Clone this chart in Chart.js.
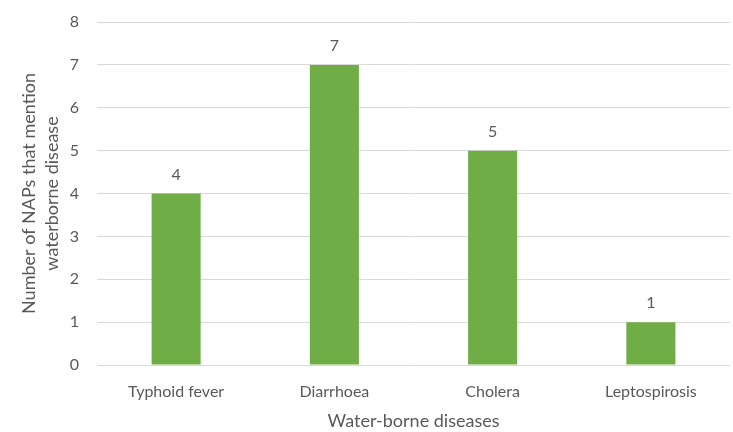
<!DOCTYPE html>
<html>
<head>
<meta charset="utf-8">
<script src="https://cdn.jsdelivr.net/npm/chart.js@4/dist/chart.umd.min.js"></script>
<style>
  html, body { margin: 0; padding: 0; background: #fff; }
  #wrap { width: 733px; height: 432px; position: relative; }
</style>
</head>
<body>
<div id="wrap"><canvas id="c"></canvas></div>
<script>
const categories = ['Typhoid fever', 'Diarrhoea', 'Cholera', 'Leptospirosis'];
const napCounts = [4, 7, 5, 1];
const yTicks = [0, 1, 2, 3, 4, 5, 6, 7, 8];

const FONT = 'Lato, "Open Sans", sans-serif';
const TEXT = '#595959';

// Writes each bar's value just above it
const valueLabels = {
  id: 'valueLabels',
  afterDatasetsDraw(chart) {
    const ctx = chart.ctx;
    const meta = chart.getDatasetMeta(0);
    ctx.save();
    ctx.font = '16px ' + FONT;
    ctx.fillStyle = TEXT;
    ctx.textAlign = 'center';
    ctx.textBaseline = 'bottom';
    meta.data.forEach((bar, i) => {
      ctx.fillText(String(chart.data.datasets[0].data[i]), bar.x, bar.y - 11);
    });
    ctx.restore();
  }
};

new Chart(document.getElementById('c'), {
  type: 'bar',
  data: {
    labels: categories,
    datasets: [{
      data: napCounts,
      backgroundColor: '#70AD47',
      borderWidth: 0,
      categoryPercentage: 1,
      barPercentage: 0.31
    }]
  },
  options: {
    responsive: true,
    maintainAspectRatio: false,
    animation: false,
    devicePixelRatio: 1,
    layout: { padding: { top: 22, right: 3, left: 0, bottom: 0 } },
    plugins: { legend: { display: false }, tooltip: { enabled: false } },
    scales: {
      x: {
        grid: { display: false },
        border: { display: false },
        ticks: { color: TEXT, font: { family: FONT, size: 16 }, padding: 9, maxRotation: 0 },
        title: { display: true, text: 'Water-borne diseases', color: TEXT, font: { family: FONT, size: 18 }, padding: { top: 4, bottom: 0 } },
        afterFit(scale) { scale.height = 67; }
      },
      y: {
        min: 0,
        max: 8,
        afterBuildTicks(scale) { scale.ticks = yTicks.map(v => ({ value: v })); },
        grid: { color: '#d9d9d9', lineWidth: 1, drawTicks: false },
        border: { display: false },
        ticks: { color: TEXT, font: { family: FONT, size: 16 }, padding: 18 },
        title: {
          display: true,
          text: ['Number of NAPs that mention', 'waterborne disease'],
          color: TEXT,
          font: { family: FONT, size: 18, lineHeight: 1.25 },
          padding: { top: 18, bottom: 0 }
        },
        afterFit(scale) {
          scale.width = 97;
          scale.paddingTop = 0;
          scale.paddingBottom = 0;
        }
      }
    }
  },
  plugins: [valueLabels]
});
</script>
</body>
</html>
